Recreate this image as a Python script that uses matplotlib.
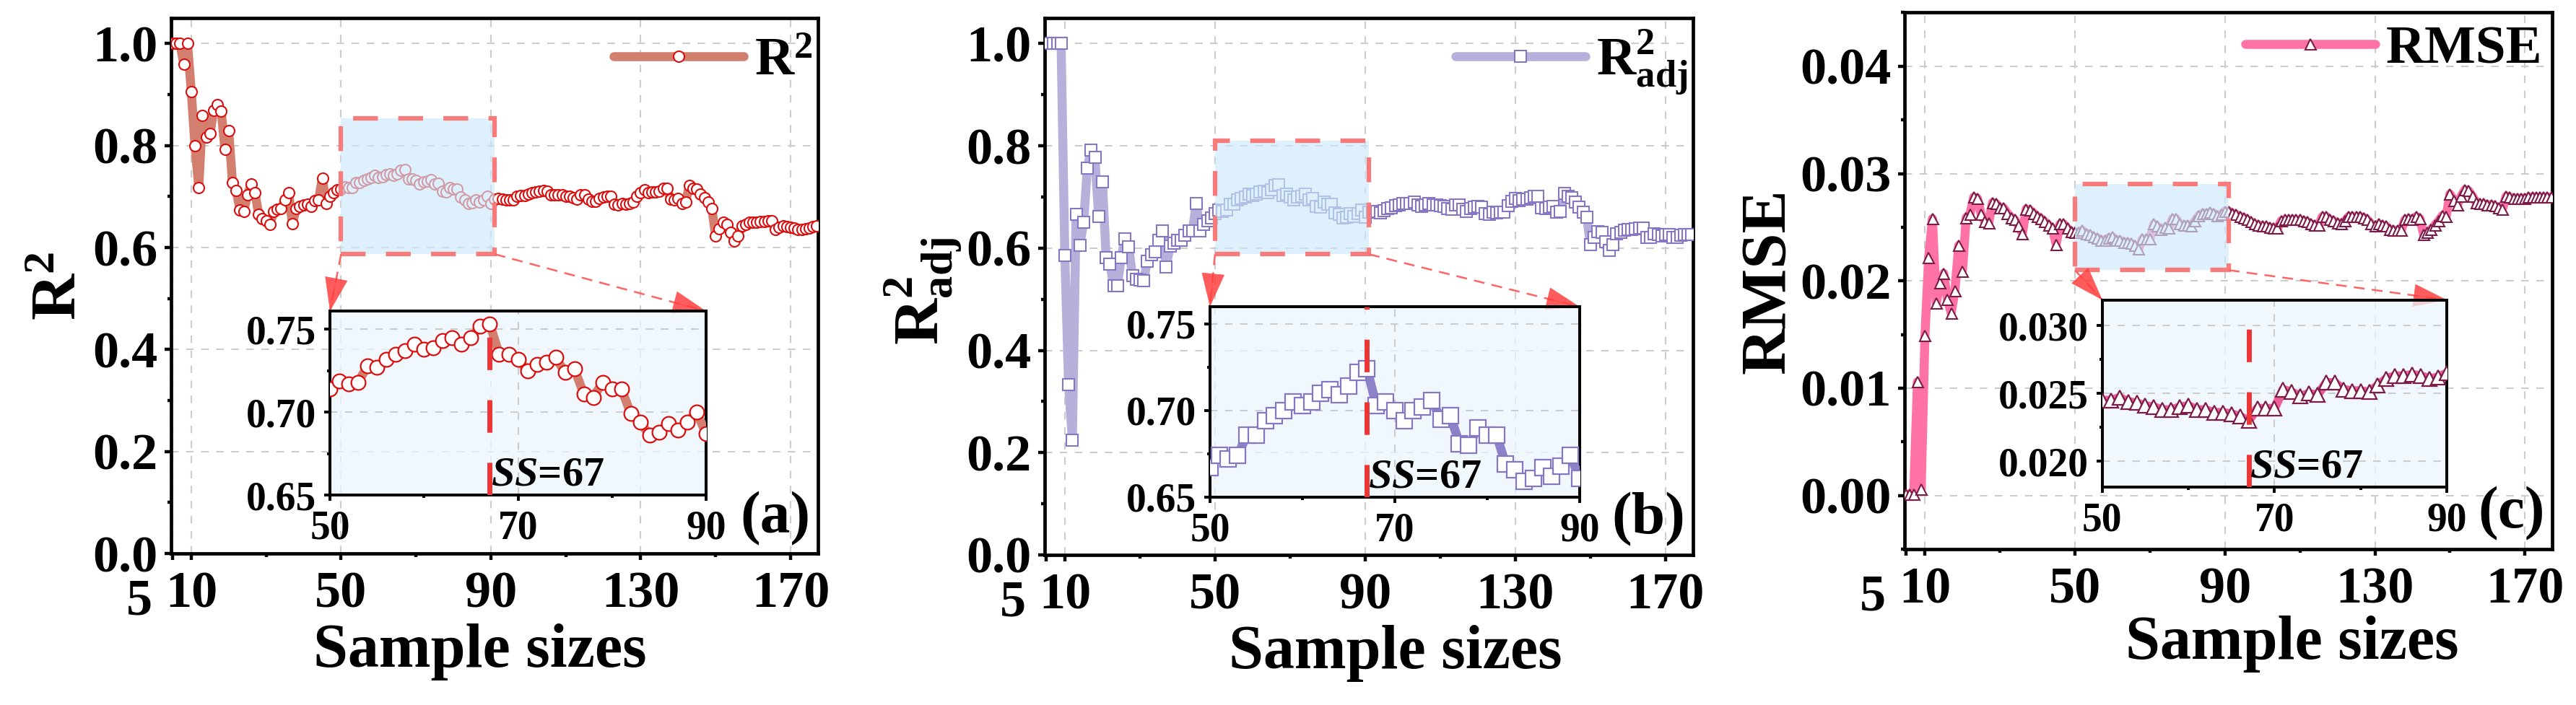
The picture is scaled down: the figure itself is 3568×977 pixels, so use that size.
import numpy as np
import matplotlib
matplotlib.use("Agg")
import matplotlib.pyplot as plt
import matplotlib.transforms as mtransforms
from matplotlib.lines import Line2D
from matplotlib.patches import Rectangle, FancyArrowPatch
from matplotlib.ticker import FixedLocator, MultipleLocator, FormatStrFormatter

plt.rcParams['font.family'] = 'Liberation Serif'
plt.rcParams['font.weight'] = 'bold'
plt.rcParams['axes.labelweight'] = 'bold'
plt.rcParams['mathtext.fontset'] = 'custom'
plt.rcParams['mathtext.rm'] = 'Liberation Serif:bold'
plt.rcParams['mathtext.bf'] = 'Liberation Serif:bold'
plt.rcParams['mathtext.it'] = 'Liberation Serif:italic:bold'

# ---- data (sample sizes 5..177) ----
sample_sizes = list(range(5, 178))

r2 = [1.0, 1.0, 1.0, 0.959, 1.0, 0.906, 0.799, 0.718, 0.859, 0.817,
      0.824, 0.869, 0.880, 0.867, 0.792, 0.829, 0.727, 0.712, 0.674, 0.671,
      0.703, 0.725, 0.708, 0.665, 0.656, 0.652, 0.645, 0.671, 0.675, 0.676,
      0.694, 0.707, 0.647, 0.676, 0.680, 0.684, 0.685, 0.681, 0.692, 0.694,
      0.736, 0.687, 0.700, 0.708, 0.713,
      0.714, 0.719, 0.717, 0.718, 0.728, 0.727, 0.732, 0.735, 0.737, 0.741,
      0.738, 0.739, 0.743, 0.745, 0.741, 0.745, 0.752, 0.753, 0.735, 0.735,
      0.732, 0.725, 0.729, 0.730, 0.733, 0.724, 0.726, 0.711, 0.709, 0.718,
      0.714, 0.714, 0.699, 0.694, 0.686, 0.688, 0.693, 0.689, 0.694, 0.700,
      0.687,
      0.695, 0.696, 0.695, 0.694, 0.693, 0.693, 0.701, 0.702, 0.702, 0.705,
      0.707, 0.709, 0.710, 0.712, 0.710, 0.703, 0.704, 0.703, 0.703, 0.701,
      0.701, 0.697, 0.695, 0.703, 0.703, 0.695, 0.690, 0.690, 0.696, 0.699,
      0.701, 0.701, 0.685, 0.683, 0.687, 0.685, 0.687, 0.689, 0.701, 0.707,
      0.713, 0.708, 0.709, 0.709, 0.710, 0.716, 0.716, 0.695, 0.693, 0.696,
      0.687, 0.689, 0.722, 0.716, 0.715, 0.705, 0.698, 0.689, 0.676, 0.623,
      0.637, 0.649, 0.646, 0.630, 0.613, 0.623, 0.642, 0.646, 0.649, 0.650,
      0.650, 0.651, 0.651, 0.653, 0.652, 0.635, 0.639, 0.642, 0.641, 0.639,
      0.638, 0.635, 0.636, 0.637, 0.638, 0.641, 0.643]

r2_adj = [1.0, 1.0, 1.0, 1.0, 1.0, 0.585, 0.333, 0.225, 0.666, 0.606,
          0.650, 0.757, 0.792, 0.777, 0.662, 0.730, 0.582, 0.569, 0.527, 0.527,
          0.582, 0.618, 0.603, 0.546, 0.539, 0.538, 0.537, 0.575, 0.587, 0.593,
          0.615, 0.634, 0.563, 0.604, 0.609, 0.615, 0.615, 0.625, 0.634, 0.634,
          0.688, 0.634, 0.647, 0.653, 0.659,
          0.667, 0.674, 0.672, 0.674, 0.686, 0.686, 0.694, 0.697, 0.700, 0.705,
          0.703, 0.705, 0.710, 0.712, 0.709, 0.714, 0.722, 0.724, 0.703, 0.705,
          0.700, 0.694, 0.700, 0.702, 0.706, 0.695, 0.697, 0.681, 0.680, 0.690,
          0.686, 0.686, 0.669, 0.666, 0.659, 0.661, 0.667, 0.662, 0.668, 0.674,
          0.661,
          0.671, 0.670, 0.672, 0.669, 0.673, 0.677, 0.679, 0.683, 0.684, 0.687,
          0.688, 0.687, 0.690, 0.684, 0.682, 0.685, 0.687, 0.685, 0.684, 0.683,
          0.682, 0.677, 0.676, 0.684, 0.685, 0.676, 0.672, 0.678, 0.680, 0.682,
          0.680, 0.668, 0.666, 0.670, 0.669, 0.670, 0.671, 0.683, 0.692, 0.697,
          0.693, 0.696, 0.696, 0.699, 0.702, 0.702, 0.679, 0.677, 0.680, 0.682,
          0.671, 0.672, 0.707, 0.702, 0.699, 0.690, 0.680, 0.671, 0.661, 0.607,
          0.621, 0.632, 0.631, 0.612, 0.595, 0.607, 0.628, 0.631, 0.635, 0.636,
          0.636, 0.638, 0.639, 0.639, 0.621, 0.621, 0.628, 0.626, 0.624, 0.627,
          0.627, 0.621, 0.621, 0.625, 0.626, 0.626, 0.626]

rmse = [0.0001, 0.0001, 0.0001, 0.0106, 0.0006, 0.0149, 0.0222, 0.0258, 0.0179, 0.0198,
        0.0207, 0.0183, 0.0170, 0.0191, 0.0233, 0.0209, 0.0259, 0.0262, 0.0278, 0.0277,
        0.0262, 0.0255, 0.0254, 0.0273, 0.0272, 0.0268, 0.0268, 0.0263, 0.0259, 0.0257,
        0.0251, 0.0244, 0.0267, 0.0266, 0.0263, 0.0260, 0.0258, 0.0255, 0.0252, 0.0249,
        0.0234, 0.0253, 0.0253, 0.0249, 0.0246,
        0.0245, 0.0245, 0.0247, 0.0244, 0.0243, 0.0241, 0.0240, 0.0238, 0.0238, 0.0240,
        0.0241, 0.0238, 0.0238, 0.0236, 0.0236, 0.0235, 0.0233, 0.0230, 0.0239, 0.0239,
        0.0239, 0.0253, 0.0251, 0.0248, 0.0250, 0.0249, 0.0258, 0.0258, 0.0253, 0.0252,
        0.0252, 0.0251, 0.0256, 0.0261, 0.0263, 0.0263, 0.0264, 0.0263, 0.0261, 0.0262,
        0.0265,
        0.0265, 0.0263, 0.0262, 0.0260, 0.0259, 0.0257, 0.0255, 0.0253, 0.0252, 0.0251,
        0.0251, 0.0250, 0.0249, 0.0249, 0.0256, 0.0257, 0.0257, 0.0257, 0.0257, 0.0257,
        0.0256, 0.0255, 0.0253, 0.0252, 0.0252, 0.0260, 0.0260, 0.0257, 0.0256, 0.0254,
        0.0253, 0.0256, 0.0260, 0.0260, 0.0260, 0.0260, 0.0259, 0.0257, 0.0253, 0.0251,
        0.0253, 0.0252, 0.0251, 0.0248, 0.0247, 0.0247, 0.0247, 0.0257, 0.0258, 0.0257,
        0.0260, 0.0258, 0.0243, 0.0245, 0.0248, 0.0252, 0.0256, 0.0261, 0.0260, 0.0281,
        0.0275, 0.0271, 0.0279, 0.0285, 0.0284, 0.0279, 0.0273, 0.0272, 0.0272, 0.0271,
        0.0271, 0.0270, 0.0268, 0.0267, 0.0279, 0.0278, 0.0277, 0.0277, 0.0277, 0.0277,
        0.0278, 0.0278, 0.0278, 0.0278, 0.0278, 0.0278, 0.0278]

best_ss = 67
x_major = [5, 10, 50, 90, 130, 170]
x_minor = [30, 70, 110, 150]

panels = [
    dict(y=r2, label=r'$\mathrm{R}^{2}$', marker='o', ms=15, line='#d37f70', inline='#d37f70',
         edge='#d90f0f', ylim=(0, 1.05), ymaj=0.2, ymin=0.1, fmt='%.1f',
         zoom_y=(0.587, 0.853), ins_ylim=(0.65, 0.761), ins_ticks=[0.65, 0.70, 0.75],
         ins_minor=0.025, ins_fmt='%.2f', tag='(a)',
         pos=[0.0664, 0.2149, 0.2511, 0.7595], ins_pos=[0.1281, 0.2978, 0.1460, 0.2610],
         ylab_xy=(-0.127, 0.5), xlab_xy=(0.478, -0.131), leg_xy=(0.992, 0.918)),
    dict(y=r2_adj, label=r'$\mathrm{R}^{2}_{\mathrm{adj}}$', marker='s', ms=16, line='#b7b0da',
         inline='#8d82c8', edge='#8577c3', ylim=(0, 1.05), ymaj=0.2, ymin=0.1, fmt='%.1f',
         zoom_y=(0.588, 0.81), ins_ylim=(0.65, 0.76), ins_ticks=[0.65, 0.70, 0.75],
         ins_minor=0.025, ins_fmt='%.2f', tag='(b)',
         pos=[0.4055, 0.2129, 0.2517, 0.7615], ins_pos=[0.4697, 0.2948, 0.1435, 0.2702],
         ylab_xy=(-0.125, 0.492), xlab_xy=(0.541, -0.130), leg_xy=(0.992, 0.918)),
    dict(y=rmse, label='RMSE', marker='^', ms=15, line='#ff72a6', inline='#ec5f98',
         edge='#7b1b48', ylim=(-0.005, 0.045), ymaj=0.01, ymin=0.005, fmt='%.2f',
         zoom_y=(0.0210, 0.0290), ins_ylim=(0.0181, 0.0319), ins_ticks=[0.020, 0.025, 0.030],
         ins_minor=0.0025, ins_fmt='%.3f', tag='(c)',
         pos=[0.7394, 0.2211, 0.2514, 0.7610], ins_pos=[0.8161, 0.3091, 0.1337, 0.2655],
         ylab_xy=(-0.165, 0.5), xlab_xy=(0.598, -0.124), leg_xy=(0.985, 0.931)),
]

fig = plt.figure(figsize=(35.68, 9.77), dpi=100)
dash_grid = (0, (5, 5))


def style_axis(a, spine_w, tick_len, tick_w, lab_size, pad_x, pad_y):
    for s in a.spines.values():
        s.set_linewidth(spine_w)
    a.tick_params(which='major', direction='out', length=tick_len, width=tick_w,
                  labelsize=lab_size, top=False, right=False)
    a.tick_params(which='minor', direction='out', length=tick_len * 0.55, width=tick_w,
                  top=False, right=False)
    a.tick_params(axis='x', which='major', pad=pad_x)
    a.tick_params(axis='y', which='major', pad=pad_y)


def connector(ax, axins, xy, corner, color='#ff6464'):
    p0 = ax.transData.transform(xy)
    p1 = axins.transAxes.transform(corner)
    inv = fig.transFigure.inverted()
    f0, f1 = inv.transform(p0), inv.transform(p1)
    fig.add_artist(Line2D([f0[0], f1[0]], [f0[1], f1[1]], transform=fig.transFigure,
                          color=color, lw=1.8, ls=(0, (6, 4)), zorder=6))
    d = p1 - p0
    L = np.hypot(*d)
    pa = p1 - d / L * min(44, L * 0.95)
    fig.add_artist(FancyArrowPatch(inv.transform(pa), f1, transform=fig.transFigure,
                                   arrowstyle='-|>,head_length=1.6,head_width=0.55',
                                   mutation_scale=20, color='#ff4040', alpha=0.85,
                                   lw=0.5, shrinkA=0, shrinkB=0, zorder=7))


for p in panels:
    ax = fig.add_axes(p['pos'])
    ax.plot(sample_sizes, p['y'], color=p['line'], lw=9, solid_capstyle='round',
            solid_joinstyle='round', marker=p['marker'], ms=p['ms'] * 0.72,
            mfc='white', mec=p['edge'], mew=1.5, label=p['label'], zorder=3)
    ax.set_xlim(4.6, 177.3)
    ax.set_ylim(*p['ylim'])
    ax.xaxis.set_major_locator(FixedLocator(x_major))
    ax.xaxis.set_minor_locator(FixedLocator(x_minor))
    ax.yaxis.set_major_locator(MultipleLocator(p['ymaj']))
    ax.yaxis.set_minor_locator(MultipleLocator(p['ymin']))
    ax.yaxis.set_major_formatter(FormatStrFormatter(p['fmt']))
    ax.grid(True, which='major', color='#cccccc', ls=dash_grid, lw=1.5)
    ax.set_axisbelow(True)
    style_axis(ax, 3.4, 6.5, 3.2, 52, 11, 7)

    ax.set_xlabel('Sample sizes', fontsize=62)
    ax.xaxis.set_label_coords(*p['xlab_xy'])
    ax.set_ylabel(p['label'], fontsize=64)
    ax.yaxis.set_label_coords(*p['ylab_xy'])

    ax.legend(loc='center right', bbox_to_anchor=p['leg_xy'], frameon=False,
              fontsize=54, handlelength=2.4, handletextpad=0.2, borderpad=0,
              borderaxespad=0, numpoints=1)

    ax.text(0.988, 0.015, p['tag'], transform=ax.transAxes, ha='right', va='bottom',
            fontsize=60)

    # shift the "5" tick label left and down so it clears "10" and the "0.0" label
    fig.canvas.draw()
    lab5 = ax.xaxis.get_major_ticks()[0].label1
    lab5.set_transform(lab5.get_transform() +
                       mtransforms.ScaledTranslation(-0.46, -0.10, fig.dpi_scale_trans))

    # zoom window
    zy0, zy1 = p['zoom_y']
    ax.add_patch(Rectangle((50, zy0), 41, zy1 - zy0, facecolor=(0.80, 0.914, 0.984, 0.65),
                           edgecolor='#f77b7b', lw=4.5, ls=(0, (5.5, 4.5)), zorder=5))

    # inset (slightly see-through so the main grid shows)
    axins = fig.add_axes(p['ins_pos'], facecolor=(0.925, 0.965, 0.996, 0.75))
    axins.set_zorder(10)
    axins.plot(sample_sizes, p['y'], color=p['inline'], lw=9, solid_joinstyle='round',
               marker=p['marker'], ms=p['ms'] * 0.95, mfc='white', mec=p['edge'], mew=1.6,
               zorder=3)
    axins.set_xlim(50, 90)
    axins.set_ylim(*p['ins_ylim'])
    axins.xaxis.set_major_locator(FixedLocator([50, 70, 90]))
    axins.xaxis.set_minor_locator(MultipleLocator(10))
    axins.yaxis.set_major_locator(FixedLocator(p['ins_ticks']))
    axins.yaxis.set_minor_locator(MultipleLocator(p['ins_minor']))
    axins.yaxis.set_major_formatter(FormatStrFormatter(p['ins_fmt']))
    axins.grid(True, which='major', color='#cccccc', ls=dash_grid, lw=1.5)
    axins.set_axisbelow(True)
    style_axis(axins, 2.9, 5.5, 2.8, 40, 9, 8)
    axins.axvline(best_ss, color='#ee3535', lw=5, ls=(0, (6.5, 6)), zorder=4)
    tr = mtransforms.blended_transform_factory(axins.transData, axins.transAxes)
    axins.text(best_ss + 0.15, 0.052, r'$\mathit{SS}$=67', transform=tr, fontsize=42,
               ha='left', va='baseline', zorder=6)

    connector(ax, axins, (50, zy0), (0, 1))
    connector(ax, axins, (91, zy0), (1, 1))

fig.savefig('out.png', dpi=100)
